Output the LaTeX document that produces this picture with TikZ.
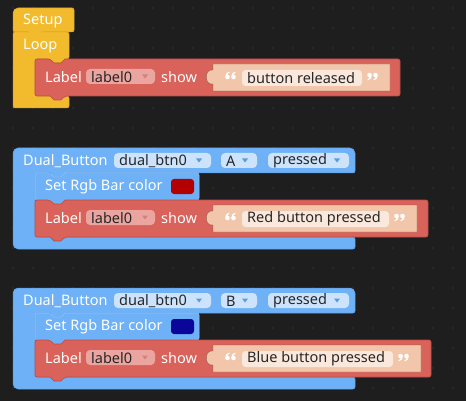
\documentclass[tikz,border=0pt]{standalone}
\usepackage{fontspec}
\setmainfont{Noto Sans}
\definecolor{bgc}{HTML}{1E1E1E}
\definecolor{dotc}{HTML}{4A4A4A}
\definecolor{yel}{HTML}{F2BB2E}
\definecolor{yeldk}{HTML}{D9A322}
\definecolor{redb}{HTML}{D9625A}
\definecolor{redbdk}{HTML}{B84E47}
\definecolor{reddd}{HTML}{EBA5A0}
\definecolor{peach}{HTML}{F2C6AA}
\definecolor{peachdk}{HTML}{8A5A4A}
\definecolor{txtfld}{HTML}{FBE8DC}
\definecolor{blu}{HTML}{6EB1F7}
\definecolor{bludk}{HTML}{5A9BE0}
\definecolor{bludd}{HTML}{CCE3FB}
\definecolor{swred}{HTML}{B30000}
\definecolor{swblue}{HTML}{0C0599}
\tikzset{
  wtxt/.style={font=\fontsize{14.5}{16}\selectfont, text=white, anchor=west, inner sep=0},
  dtxt/.style={font=\fontsize{14.5}{16}\selectfont, text=black!85, anchor=west, inner sep=0},
  yelblock/.style={fill=yel, draw=yeldk, line width=0.5, rounded corners=2},
  redblock/.style={fill=redb, draw=redbdk, line width=0.6, rounded corners=2},
  blublock/.style={fill=blu, draw=bludk, line width=0.5, rounded corners=2},
  strblock/.style={fill=peach, draw=peachdk, line width=0.4},
}
% notch cut into a top edge (left to right) and tab on a bottom edge (right to left)
\newcommand\topnotch[2]{-- (#1+15,#2) [sharp corners] -- (#1+19,#2+4) -- (#1+26,#2+4) -- (#1+30,#2) [rounded corners=2]}
\newcommand\bottab[2]{-- (#1+30,#2) [sharp corners] -- (#1+26,#2+4) -- (#1+19,#2+4) -- (#1+15,#2) [rounded corners=2]}
% one comma-shaped quote stroke: dot at the origin, tail rising to the right
\newcommand\qmark{%
  \fill[white] (0,0) circle (2.3);
  \fill[white] (-2.3,0) .. controls (-2.3,-3.2) and (-0.6,-4.8) .. (1.8,-5.4)
     -- (2,-4.3) .. controls (0.6,-3.7) and (-0.1,-2.8) .. (0,-2.3) -- cycle;}
\newcommand\openquote[2]{%
  \begin{scope}[shift={(#1,#2)}] \qmark \end{scope}
  \begin{scope}[shift={(#1+6,#2)}] \qmark \end{scope}}
\newcommand\closequote[2]{%
  \begin{scope}[shift={(#1,#2)}, rotate=180] \qmark \end{scope}
  \begin{scope}[shift={(#1+6,#2)}, rotate=180] \qmark \end{scope}}
% a "Label ... show ..." statement with its text input
\newcommand\labelrow[4]{% #1 top y, #2 right edge, #3 string right edge, #4 text
  \draw[redblock] (35,#1) \topnotch{35}{#1} -- (#2,#1) -- (#2,#1+37) \bottab{35}{#1+37} -- (35,#1+37) -- cycle;
  \node[wtxt] (lab#1) at (45,#1+18) {Label};
  \fill[reddd, rounded corners=4] (86,#1+10) rectangle (155,#1+25);
  \node[dtxt] (sel#1) at (91,#1+18) {label0};
  \fill[redbdk!70] (142,#1+15.5) -- (148,#1+15.5) -- (145,#1+19.5) -- cycle;
  \node[wtxt] (show#1) at (161,#1+18) {show};
  \draw[strblock] (213,#1+5) -- (#3,#1+5) -- (#3,#1+32) -- (213,#1+32) -- (213,#1+25)
     .. controls (204,#1+27) and (204,#1+9) .. (213,#1+11) -- cycle;
  \openquote{227.5}{#1+18}
  \fill[txtfld, rounded corners=3.5] (242,#1+11) rectangle (#3-28,#1+27);
  \node[dtxt] (str#1) at (247,#1+19) {#4};
  \closequote{#3-20.5}{#1+16}
}
% a "Dual_Button ..." event block with its first statement
\newcommand\dualblock[3]{% #1 top y, #2 key, #3 swatch colour
  \draw[blublock, rounded corners=5] (13,#1) -- (355,#1) [rounded corners=2] -- (355,#1+25)
     \bottab{35}{#1+25} -- (35,#1+25) -- (35,#1+89) -- (355,#1+89) -- (355,#1+101) [rounded corners=5] -- (13,#1+101) -- cycle;
  \node[wtxt] (db#1) at (23,#1+13) {Dual\_Button};
  \fill[bludd, rounded corners=4] (114,#1+5) rectangle (211,#1+20);
  \node[dtxt] (dbn#1) at (119,#1+13) {dual\_btn0};
  \fill[bludk] (196,#1+10.5) -- (202,#1+10.5) -- (199,#1+14.5) -- cycle;
  \fill[bludd, rounded corners=4] (221,#1+5) rectangle (257,#1+20);
  \node[dtxt] (key#1) at (226,#1+13) {#2};
  \fill[bludk] (242,#1+10.5) -- (248,#1+10.5) -- (245,#1+14.5) -- cycle;
  \fill[bludd, rounded corners=4] (268,#1+5) rectangle (349,#1+20);
  \node[dtxt] (ev#1) at (273,#1+13) {pressed};
  \fill[bludk] (334,#1+10.5) -- (340,#1+10.5) -- (337,#1+14.5) -- cycle;
  \draw[blublock, draw=bludk!60!white] (35,#1+25) \topnotch{35}{#1+25} -- (199,#1+25) -- (199,#1+52) \bottab{35}{#1+52} -- (35,#1+52) -- cycle;
  \node[wtxt] (rgb#1) at (45,#1+39) {Set Rgb Bar color};
  \fill[#3, rounded corners=3] (171,#1+31) rectangle (194,#1+46);
}
\begin{document}
\begin{tikzpicture}[x=1pt,y=-1pt]
\fill[bgc] (0,0) rectangle (466,401);
\useasboundingbox (0,0) rectangle (466,401);
% workspace grid
\foreach \i in {0,...,22}
  \foreach \j in {0,...,19}
    \fill[dotc] (13+20*\i,8+20*\j) circle (0.6);
% Setup / Loop
\draw[yelblock, rounded corners=5] (13,32) -- (13,8) [rounded corners=2] -- (74,8) -- (74,32) \bottab{13}{32} -- cycle;
\draw[yelblock] (13,32) -- (69,32) -- (69,59) \bottab{35}{59} -- (35,59)
   -- (35,96) -- (69,96) -- (69,108) -- (13,108) -- cycle;
\fill[yel] (28,30) -- (42,30) -- (38,35.5) -- (32,35.5) -- cycle;
\node[wtxt] (setup) at (23,21) {Setup};
\node[wtxt] (loop) at (23,46) {Loop};
\labelrow{59}{400}{390}{button released}
% button A
\dualblock{148}{A}{swred}
\labelrow{200}{428}{417}{Red button pressed}
% button B
\dualblock{288}{B}{swblue}
\labelrow{340}{431}{421}{Blue button pressed}
\end{tikzpicture}
\end{document}
